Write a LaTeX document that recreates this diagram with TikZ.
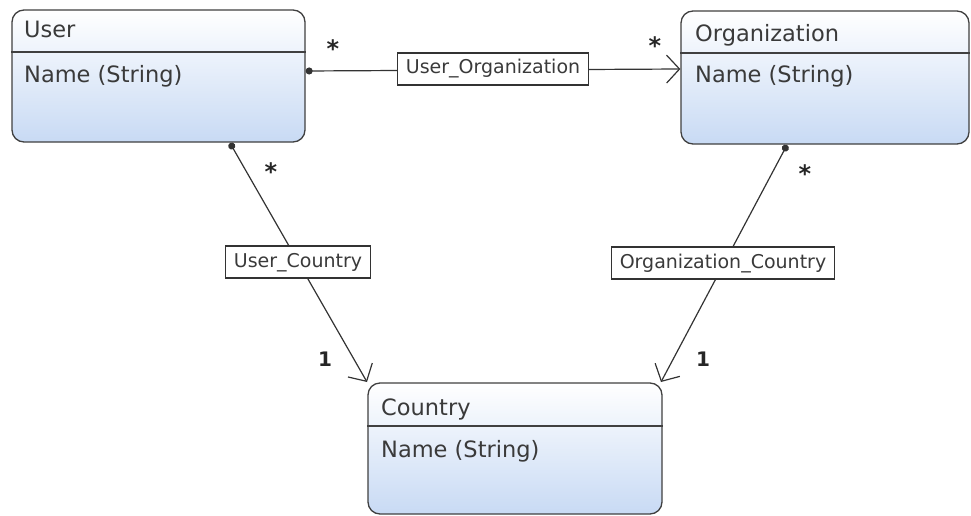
\documentclass[tikz,border=0pt]{standalone}
\usepackage{fontspec}
\setmainfont{DejaVu Sans}
\usetikzlibrary{arrows.meta}
\definecolor{txt}{HTML}{3A3A3A}
\definecolor{boxbot}{HTML}{C8DAF4}
\tikzset{
  classbox/.style={draw=black!75, line width=1.3pt, rounded corners=12pt,
    top color=white, bottom color=boxbot, middle color=white!50!boxbot, inner sep=0pt},
  sep/.style={draw=black!75, line width=1.1pt},
  ctext/.style={anchor=base west, inner sep=0pt, text=txt, font=\fontsize{22.5}{26}\selectfont},
  lbl/.style={draw=black!80, line width=1.2pt, fill=white, inner xsep=8pt, inner ysep=7pt, text=txt,
    font=\fontsize{19}{22}\selectfont, text height=14pt, text depth=4pt},
  assoc/.style={draw=black!80, line width=1.2pt, {Circle[length=7pt]}-{Straight Barb[length=13pt,width=28pt,line width=1.2pt]}},
  mult/.style={inner sep=0pt, font=\bfseries\fontsize{24}{28}\selectfont, text=black!85},
  multn/.style={inner sep=0pt, font=\bfseries\fontsize{20}{24}\selectfont, text=black!85},
}
\begin{document}
\begin{tikzpicture}[x=1pt,y=-1pt]
\useasboundingbox (0,0) rectangle (971,516);
% classes
\node[classbox, minimum width=293pt, minimum height=132pt] (user) at (158.5,76) {};
\node[classbox, minimum width=288pt, minimum height=133pt] (org) at (825,77.5) {};
\node[classbox, minimum width=294pt, minimum height=131pt] (country) at (515,448.5) {};
% header separators
\draw[sep] (user.west |- 0,52) -- (user.east |- 0,52);
\draw[sep] (org.west |- 0,53) -- (org.east |- 0,53);
\draw[sep] (country.west |- 0,426) -- (country.east |- 0,426);
% texts
\node[ctext] (usert) at (24,38) {User};
\node[ctext] (usera) at (24,83) {Name (String)};
\node[ctext] (orgt) at (695,42) {Organization};
\node[ctext] (orga) at (695,83) {Name (String)};
\node[ctext] (countryt) at (381,415) {Country};
\node[ctext] (countrya) at (381,457) {Name (String)};
% connector endpoints
\coordinate (uo1) at (user.east |- 0,71);
\coordinate (uo2) at (org.west |- 0,69);
\coordinate (uc1) at (230,143);
\coordinate (uc2) at (367,382);
\coordinate (oc1) at (787,145);
\coordinate (oc2) at (661,382);
\draw[assoc] (uo1) -- (uo2);
\draw[assoc] (uc1) -- (uc2);
\draw[assoc] (oc1) -- (oc2);
% labels
\node[lbl] (luo) at (493,69) {User\_Organization};
\node[lbl] (luc) at (298,262) {User\_Country};
\node[lbl] (loc) at (723,263) {Organization\_Country};
% multiplicities
\node[mult] (m1) at (333,49) {*};
\node[mult] (m2) at (655,46) {*};
\node[mult] (m3) at (271,172) {*};
\node[mult] (m4) at (805,174) {*};
\node[multn] (m5) at (325,359) {1};
\node[multn] (m6) at (703,359) {1};
\end{tikzpicture}
\end{document}
